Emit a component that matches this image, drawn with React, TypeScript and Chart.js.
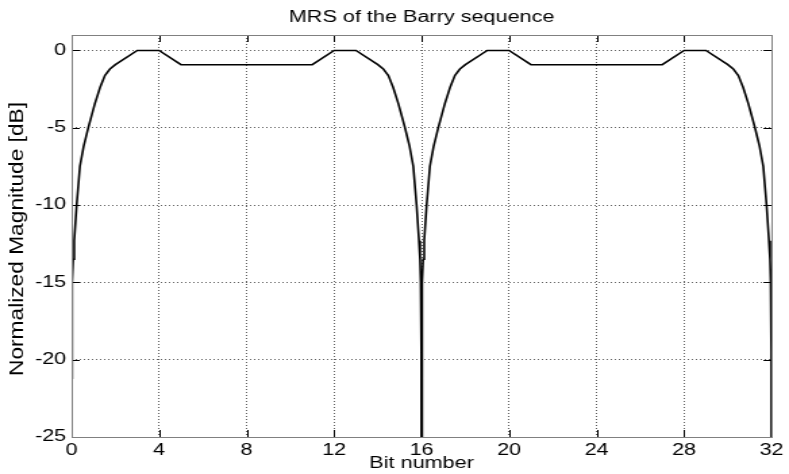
import React, { useEffect, useRef } from "react";
import { Chart, registerables } from "chart.js";

Chart.register(...registerables);

// ---- data ----
const chartTitle = "MRS of the Barry sequence";
const xAxisTitle = "Bit number";
const yAxisTitle = "Normalized Magnitude [dB]";

const xTicks = [0, 4, 8, 12, 16, 20, 24, 28, 32];
const yTicks = [-25, -20, -15, -10, -5, 0];

const bitNumber = [
  0, 0.008, 0.02, 0.04, 0.07, 0.12, 0.23, 0.38, 0.55, 0.76, 1.06, 1.3, 1.52, 1.75, 2,
  3, 4,
  5, 6, 7, 8, 9, 10, 11,
  12, 13,
  14, 14.25, 14.48, 14.7, 14.94, 15.24, 15.45, 15.62, 15.77, 15.88, 15.93, 15.96, 15.98, 15.992,
  16,
  16.008, 16.02, 16.04, 16.07, 16.12, 16.23, 16.38, 16.55, 16.76, 17.06, 17.3, 17.52, 17.75, 18,
  19, 20,
  21, 22, 23, 24, 25, 26, 27,
  28, 29,
  30, 30.25, 30.48, 30.7, 30.94, 31.24, 31.45, 31.62, 31.77, 31.88, 31.93, 31.96, 31.98, 31.992,
  32,
];

const magnitudeDb = [
  -21.2, -19.5, -17.0, -15.0, -13.5, -12.3, -10.0, -7.5, -6.2, -5.0, -3.45, -2.4, -1.62, -1.2, -0.92,
  0, 0,
  -0.92, -0.92, -0.92, -0.92, -0.92, -0.92, -0.92,
  0, 0,
  -0.92, -1.2, -1.62, -2.4, -3.45, -5.0, -6.2, -7.5, -10.0, -12.3, -13.5, -15.0, -17.0, -19.5,
  -40,
  -19.5, -17.0, -15.0, -13.5, -12.3, -10.0, -7.5, -6.2, -5.0, -3.45, -2.4, -1.62, -1.2, -0.92,
  0, 0,
  -0.92, -0.92, -0.92, -0.92, -0.92, -0.92, -0.92,
  0, 0,
  -0.92, -1.2, -1.62, -2.4, -3.45, -5.0, -6.2, -7.5, -10.0, -12.3, -13.5, -15.0, -17.0, -19.5,
  -40,
];

// ---- layout ----
const PAGE_W = 789;
const PAGE_H = 474;
const STRETCH_X = 1.35; // reference is horizontally stretched
const CANVAS_W = Math.round(PAGE_W / STRETCH_X);
const FONT = "'Liberation Sans', Arial, Helvetica, sans-serif";
const Y_TITLE_LENGTH = 274; // on-screen length of the rotated y label

const framePlugin = {
  id: "matlabFrame",
  afterDatasetsDraw(chart: any) {
    const { ctx, chartArea, scales } = chart;
    const { left, right, top, bottom } = chartArea;
    const xs = scales.x;
    const ys = scales.y;
    ctx.save();
    ctx.lineWidth = 1;
    ctx.strokeStyle = "#000";
    ctx.beginPath();
    xTicks.forEach((v) => {
      const px = Math.round(xs.getPixelForValue(v)) + 0.5;
      ctx.moveTo(px, bottom);
      ctx.lineTo(px, bottom - 7);
      ctx.moveTo(px, top);
      ctx.lineTo(px, top + 7);
    });
    yTicks.forEach((v) => {
      const py = Math.round(ys.getPixelForValue(v)) + 0.5;
      ctx.moveTo(left, py);
      ctx.lineTo(left + 6, py);
      ctx.moveTo(right, py);
      ctx.lineTo(right - 6, py);
    });
    ctx.stroke();
    ctx.strokeStyle = "#808080";
    ctx.strokeRect(Math.round(left) + 0.5, Math.round(top) + 0.5, Math.round(right - left), Math.round(bottom - top));
    ctx.restore();
  },
  afterDraw(chart: any) {
    const { ctx, chartArea } = chart;
    const cy = (chartArea.top + chartArea.bottom) / 2 + 3;
    ctx.save();
    ctx.font = "16px " + FONT;
    ctx.fillStyle = "#000";
    ctx.textAlign = "center";
    ctx.textBaseline = "middle";
    const natural = ctx.measureText(yAxisTitle).width;
    ctx.translate(13.3, cy);
    ctx.rotate(-Math.PI / 2);
    ctx.scale(Y_TITLE_LENGTH / natural, 0.9);
    ctx.fillText(yAxisTitle, 0, 0);
    ctx.restore();
  },
};

export default function App() {
  const canvasRef = useRef<HTMLCanvasElement | null>(null);

  useEffect(() => {
    const canvas = canvasRef.current;
    if (!canvas) return;
    Chart.defaults.font.family = FONT;
    Chart.defaults.color = "#000";

    const points = bitNumber.map((x, i) => ({ x, y: magnitudeDb[i] }));

    const chart = new Chart(canvas, {
      type: "line",
      data: {
        datasets: [
          {
            data: points,
            borderColor: "#000",
            borderWidth: 1.6,
            pointRadius: 0,
            tension: 0,
            fill: false,
          },
        ],
      },
      options: {
        responsive: false,
        animation: false,
        devicePixelRatio: 1,
        layout: { padding: { left: 0, right: 10, top: 0, bottom: 0 } },
        plugins: {
          legend: { display: false },
          tooltip: { enabled: false },
          title: {
            display: true,
            text: chartTitle,
            fullSize: false,
            color: "#000",
            font: { size: 16, weight: "normal", family: FONT },
            padding: { top: 8, bottom: 7.8 },
          },
        },
        scales: {
          x: {
            type: "linear",
            min: 0,
            max: 32,
            afterBuildTicks: (s: any) => {
              s.ticks = xTicks.map((v) => ({ value: v }));
            },
            afterFit: (s: any) => {
              s.height = 37;
            },
            grid: { color: "#606060", lineWidth: 1, drawTicks: false },
            border: { display: false, dash: [1, 2] },
            ticks: {
              padding: 4,
              color: "#000",
              font: { size: 16, family: FONT },
              maxRotation: 0,
              autoSkip: false,
            },
            title: {
              display: true,
              text: xAxisTitle,
              color: "#000",
              font: { size: 16, family: FONT },
              padding: { top: 0, bottom: 1 },
            },
          },
          y: {
            type: "linear",
            min: -25,
            max: 1,
            afterBuildTicks: (s: any) => {
              s.ticks = yTicks.map((v) => ({ value: v }));
            },
            afterFit: (s: any) => {
              s.width = 53;
            },
            grid: { color: "#606060", lineWidth: 1, drawTicks: false },
            border: { display: false, dash: [1, 2] },
            ticks: {
              padding: 4,
              color: "#000",
              font: { size: 16, family: FONT },
              autoSkip: false,
            },
            title: { display: false },
          },
        },
      },
      plugins: [framePlugin],
    } as any);

    return () => chart.destroy();
  }, []);

  return (
    <div style={{ position: "absolute", left: 0, top: 0, width: PAGE_W, height: PAGE_H, background: "#fff" }}>
      <canvas
        ref={canvasRef}
        width={CANVAS_W}
        height={PAGE_H}
        style={{ display: "block", width: PAGE_W + "px", height: PAGE_H + "px" }}
      />
    </div>
  );
}
